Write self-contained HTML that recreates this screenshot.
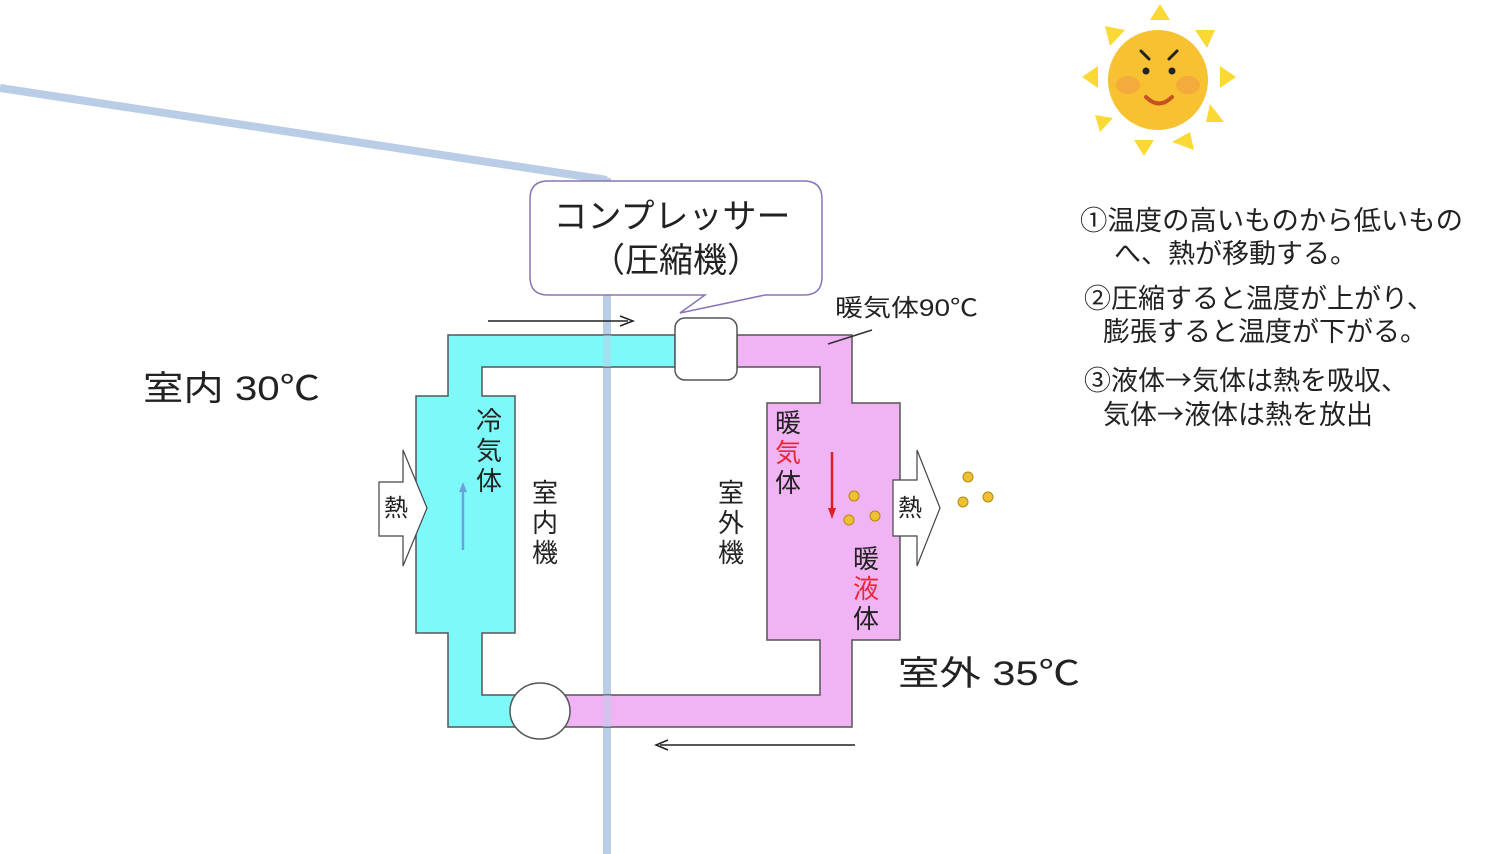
<!DOCTYPE html>
<html><head><meta charset="utf-8"><style>
html,body{margin:0;padding:0;background:#fff;}
svg{display:block;}
text{font-family:"Liberation Sans","Noto Sans CJK JP",sans-serif;fill:#222;}
.j{font-family:"Noto Sans CJK JP",sans-serif;}
</style></head><body>
<svg width="1512" height="854" viewBox="0 0 1512 854" xmlns="http://www.w3.org/2000/svg">
<line x1="0" y1="88" x2="607" y2="180" stroke="#b9cde6" stroke-width="8"/>
<line x1="607" y1="178" x2="607" y2="854" stroke="#b9cde6" stroke-width="8"/>

<path d="M448,335 L675,335 L675,367 L482,367 L482,396 L515,396 L515,633 L482,633 L482,695 L540,695 L540,727 L448,727 L448,633 L416,633 L416,396 L448,396 Z" fill="#7ef9f9" stroke="#555" stroke-width="1.5"/>
<path d="M737,335 L852,335 L852,403 L900,403 L900,640 L852,640 L852,727 L540,727 L540,695 L820,695 L820,640 L767,640 L767,403 L820,403 L820,367 L737,367 Z" fill="#f0b4f5" stroke="#555" stroke-width="1.5"/>
<rect x="603" y="335" width="8" height="32" fill="#b9cde6" opacity="0.5"/>
<rect x="603" y="695" width="8" height="32" fill="#b9cde6" opacity="0.5"/>

<rect x="675" y="318" width="62" height="62" rx="10" fill="#fff" stroke="#555" stroke-width="1.5"/>
<ellipse cx="540" cy="711" rx="30" ry="28" fill="#fff" stroke="#555" stroke-width="1.5"/>

<path d="M548,181 L804,181 Q822,181 822,199 L822,277 Q822,295 804,295 L765,295 L680,313 L705,295 L548,295 Q530,295 530,277 L530,199 Q530,181 548,181 Z" fill="#fff" stroke="#8a74b8" stroke-width="1.5"/>
<text x="672" y="228" font-size="34" text-anchor="middle">コンプレッサー</text>
<text x="676" y="272" font-size="34" text-anchor="middle">（圧縮機）</text>

<line x1="488" y1="321" x2="628" y2="321" stroke="#222" stroke-width="1.5"/>
<path d="M620,316 L633,321 L620,326" fill="none" stroke="#222" stroke-width="1.5"/>
<line x1="855" y1="745" x2="660" y2="745" stroke="#222" stroke-width="1.5"/>
<path d="M668,740 L656,745 L668,750" fill="none" stroke="#222" stroke-width="1.5"/>

<text x="835" y="316" font-size="24" textLength="143" lengthAdjust="spacingAndGlyphs">暖気体90℃</text>
<line x1="828" y1="344" x2="872" y2="330" stroke="#333" stroke-width="1.5"/>
<text x="143" y="400" font-size="34" textLength="177" lengthAdjust="spacingAndGlyphs">室内 30℃</text>
<text x="898" y="685" font-size="34" textLength="182" lengthAdjust="spacingAndGlyphs">室外 35℃</text>

<g font-size="26">
<text x="476" y="430">冷</text><text x="476" y="460">気</text><text x="476" y="490">体</text>
<text x="532" y="502">室</text><text x="532" y="532">内</text><text x="532" y="562">機</text>
<text x="718" y="502">室</text><text x="718" y="532">外</text><text x="718" y="562">機</text>
<text x="775" y="432">暖</text><text x="775" y="462" style="fill:#e8283a">気</text><text x="775" y="492">体</text>
<text x="853" y="568">暖</text><text x="853" y="598" style="fill:#e8283a">液</text><text x="853" y="628">体</text>
</g>

<line x1="463" y1="550" x2="463" y2="490" stroke="#6aa0e0" stroke-width="2.5"/>
<path d="M459,492 L463,482 L467,492 Z" fill="#6aa0e0"/>
<line x1="832" y1="452" x2="832" y2="510" stroke="#e02020" stroke-width="2.5"/>
<path d="M828,508 L832,519 L836,508 Z" fill="#e02020"/>

<path d="M379,482 L403,482 L403,450 L427,508 L403,566 L403,536 L379,536 Z" fill="#fff" stroke="#444" stroke-width="1.2"/>
<text x="384" y="516" font-size="24">熱</text>
<path d="M893,480 L917,480 L917,450 L940,508 L917,566 L917,536 L893,536 Z" fill="#fff" stroke="#444" stroke-width="1.2"/>
<text x="898" y="516" font-size="24">熱</text>

<g fill="#f0c030" stroke="#b08a10" stroke-width="1">
<circle cx="854" cy="496" r="5"/><circle cx="849" cy="520" r="5"/><circle cx="875" cy="516" r="5"/>
<circle cx="968" cy="477" r="5"/><circle cx="963" cy="502" r="5"/><circle cx="988" cy="497" r="5"/>
</g>

<g fill="#fbd935">
<polygon points="1160,4 1150,20 1170,20"/>
<polygon points="1105,26 1125,30 1110,46"/>
<polygon points="1195,30 1215,30 1207,48"/>
<polygon points="1082,77 1098,66 1098,88"/>
<polygon points="1220,66 1236,77 1220,88"/>
<polygon points="1095,115 1113,118 1100,132"/>
<polygon points="1210,104 1224,122 1206,122"/>
<polygon points="1134,140 1154,140 1144,156"/>
<polygon points="1172,142 1190,132 1194,150"/>
</g>
<circle cx="1158" cy="80" r="50" fill="#f7c132"/>
<ellipse cx="1128" cy="85" rx="12" ry="9" fill="#f2a040" opacity="0.7"/>
<ellipse cx="1188" cy="85" rx="12" ry="9" fill="#f2a040" opacity="0.7"/>
<circle cx="1146" cy="71" r="3.5" fill="#222"/><circle cx="1172" cy="71" r="3.5" fill="#222"/>
<path d="M1141,51 L1149,59" stroke="#222" stroke-width="3" stroke-linecap="round"/>
<path d="M1177,51 L1169,59" stroke="#222" stroke-width="3" stroke-linecap="round"/>
<path d="M1146,97 Q1159,110 1172,97" fill="none" stroke="#c85020" stroke-width="4" stroke-linecap="round"/>

<g font-size="27" class="j">
<text class="j" x="1080" y="230" textLength="383" lengthAdjust="spacingAndGlyphs">①温度の高いものから低いもの</text>
<text class="j" x="1114" y="263">へ、熱が移動する。</text>
<text class="j" x="1084" y="308">②圧縮すると温度が上がり、</text>
<text class="j" x="1103" y="341">膨張すると温度が下がる。</text>
<text class="j" x="1084" y="390">③液体→気体は熱を吸収、</text>
<text class="j" x="1103" y="424">気体→液体は熱を放出</text>
</g>
</svg>
</body></html>
